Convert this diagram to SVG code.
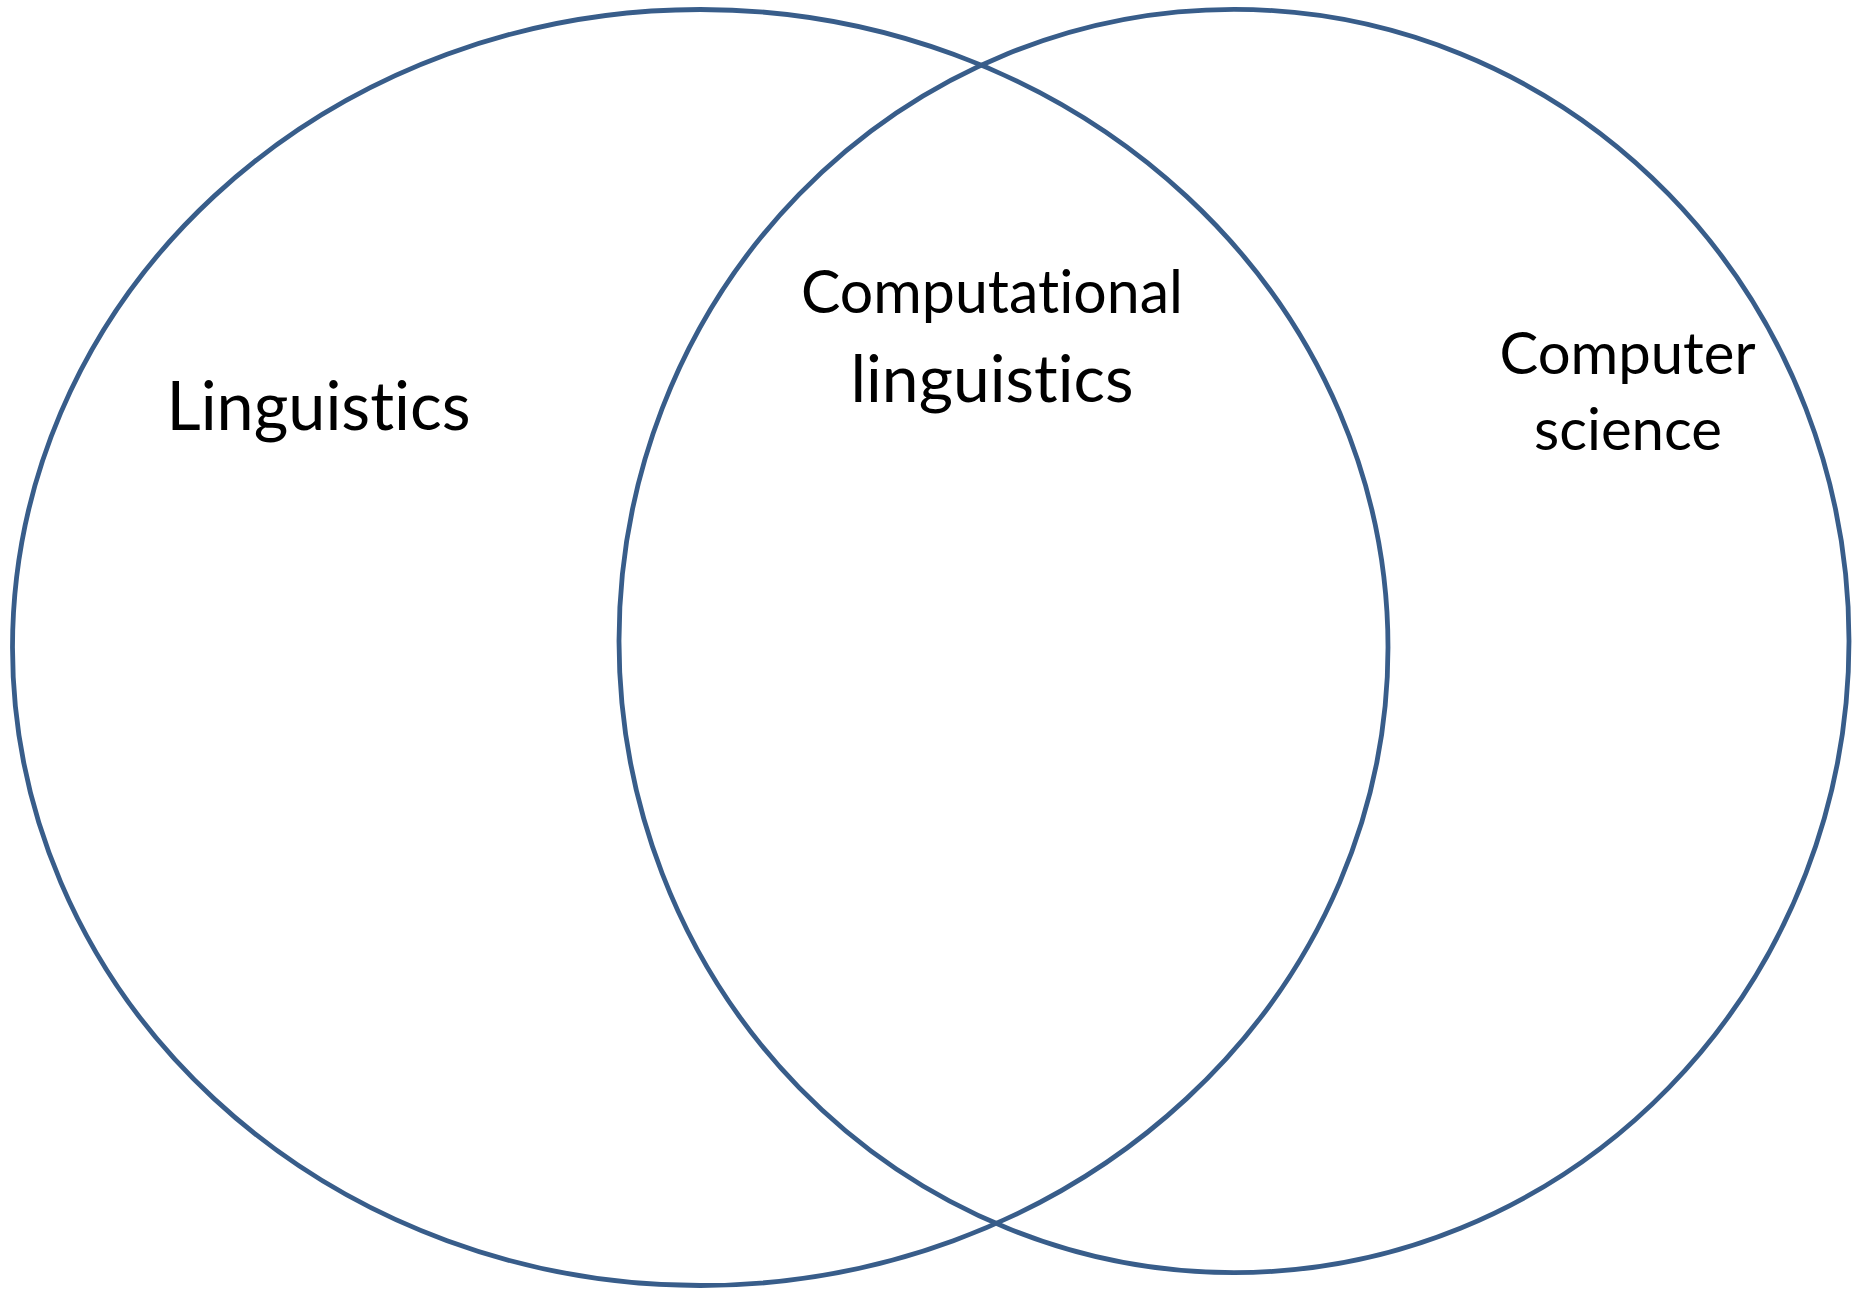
<svg xmlns="http://www.w3.org/2000/svg" width="1856" height="1290" viewBox="0 0 1856 1290">
  <style>
    .set { fill: none; stroke: #385D8A; stroke-width: 4.8; }
    .label { font-family: Lato, "Open Sans", "Liberation Sans", sans-serif; fill: #000000; text-anchor: middle; font-variant-ligatures: none; font-feature-settings: "liga" 0, "clig" 0; }
  </style>
  <rect x="0" y="0" width="1856" height="1290" fill="#ffffff"/>
  <g id="set-linguistics">
    <ellipse class="set" cx="700.25" cy="647.5" rx="687.75" ry="638"/>
    <text class="label" x="318.5" y="430" font-size="68" textLength="304" lengthAdjust="spacingAndGlyphs">Linguistics</text>
  </g>
  <g id="set-computer-science">
    <ellipse class="set" cx="1234" cy="641" rx="615" ry="631.6"/>
    <text class="label" x="1627.5" y="374" font-size="58" textLength="256" lengthAdjust="spacingAndGlyphs">Computer</text>
    <text class="label" x="1628" y="450" font-size="58" textLength="188" lengthAdjust="spacingAndGlyphs">science</text>
  </g>
  <g id="overlap-computational-linguistics">
    <text class="label" x="992" y="313" font-size="60" textLength="382" lengthAdjust="spacingAndGlyphs">Computational</text>
    <text class="label" x="992" y="402" font-size="65" textLength="283" lengthAdjust="spacingAndGlyphs">linguistics</text>
  </g>
  <g id="connectors"/>
</svg>
